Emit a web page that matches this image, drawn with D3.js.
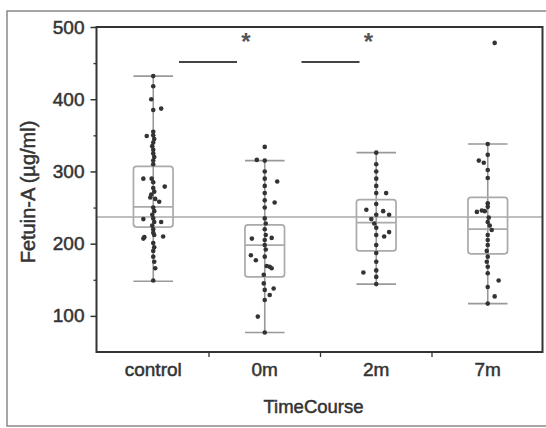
<!DOCTYPE html>
<html>
<head>
<meta charset="utf-8">
<script src="https://cdn.jsdelivr.net/npm/d3@7"></script>
<style>
  html, body { margin: 0; padding: 0; background: #fff; }
  svg { display: block; }
  text { font-family: "Liberation Sans", Arial, sans-serif; }
</style>
</head>
<body>
<svg id="chart" width="546" height="428"></svg>
<script>
// ---------- data ----------
const categories = ["control", "0m", "2m", "7m"];
const yTicks = [100, 200, 300, 400, 500];
const yMinorTicks = [150, 250, 350, 450];
const xTitle = "TimeCourse";
const yTitle = "Fetuin-A (µg/ml)";
const grandMean = 237;

// box statistics: [lower whisker, q1, median, q3, upper whisker]
const boxControl = [148, 223, 251, 307, 432];
const box0m      = [77, 154, 198, 226, 315];
const box2m      = [144, 190, 229, 261, 326];
const box7m      = [117, 186, 220, 264, 338];

// individual observations (values) and their horizontal jitter (in half-box units)
const ptsControl = [432,418,400,385,387,349,355,350,345,340,335,330,325,320,315,310,290,290,285,277,279,272,268,264,262,258,250,245,240,235,230,225,220,234,230,215,212,209,207,210,201,195,190,182,175,166,149];
const jitControl = [0,0,-0.1,0,0.4,-0.33,0,0,0.05,0,-0.05,0,0,0.05,0,0,-0.5,-0.08,0,0,0.58,0.05,-0.1,-0.15,0.1,0.3,0,0.05,-0.05,0,0.05,-0.05,0,-0.5,0.4,0,0.05,-0.45,-0.5,0.5,0,0.05,0,0,0.05,0.1,0];
const pts0m = [334,316,315,300,290,280,270,260,250,286,257,235,228,220,212,205,198,192,207,208,184,177,182,169,168,166,157,145,136,138,129,122,99,77];
const jit0m = [0,-0.4,0,0,0,0,0,0,0,0.63,0.5,0,0.05,0,0.05,0,0,0.05,-0.65,0.35,-0.7,-0.45,0,0.1,0.25,0.35,-0.05,-0.05,0,0.45,0.25,0,-0.35,0];
const pts2m = [326,310,300,290,280,270,270,255,247,245,240,240,234,228,222,212,210,216,198,187,175,160,163,154,144];
const jit2m = [0,0,0,0,0,0,0.5,0,-0.5,0.35,0,0.65,-0.25,-0.1,0,0,0.4,0.65,0,0,0,-0.65,0,0,0];
const pts7m = [478,338,315,312,323,302,291,256,251,244,246,245,236,230,225,219,212,205,198,190,182,175,168,159,140,149,127,117];
const jit7m = [0.35,0,-0.45,-0.2,0,0,0,0,0,-0.55,-0.3,-0.15,0.05,0,0.1,0.2,0,0,0,-0.05,0,-0.05,0,0,0,0.55,0.35,0];

// significance annotations
const sigLabels = ["*", "*"];

const boxes = [boxControl, box0m, box2m, box7m];
const points = [ptsControl, pts0m, pts2m, pts7m];
const jitters = [jitControl, jit0m, jit2m, jit7m];

// ---------- layout ----------
const svg = d3.select("#chart");
const plot = { left: 96.5, right: 542.5, top: 27, bottom: 352 };

const x = d3.scaleBand().domain(categories).range([97.5, 543.5]).paddingInner(0).paddingOuter(0);
const y = d3.scaleLinear().domain([50, 500]).range([plot.bottom, plot.top]);
const boxW = x.bandwidth() * 0.355;

// outer frame
svg.append("rect")
  .attr("x", 7).attr("y", 11).attr("width", 560).attr("height", 415)
  .attr("fill", "none").attr("stroke", "#777").attr("stroke-width", 1.3);

// grand mean line
svg.append("line")
  .attr("x1", plot.left).attr("x2", plot.right)
  .attr("y1", y(grandMean)).attr("y2", y(grandMean))
  .attr("stroke", "#aaa").attr("stroke-width", 1.5);

// boxes
const g = svg.append("g");
boxes.forEach((b, i) => {
  const cx = x(categories[i]) + x.bandwidth() / 2;
  const gg = g.append("g");
  gg.append("line").attr("x1", cx).attr("x2", cx)
    .attr("y1", y(b[0])).attr("y2", y(b[4]))
    .attr("stroke", "#999").attr("stroke-width", 1.6);
  [b[0], b[4]].forEach(v => {
    gg.append("line").attr("x1", cx - boxW / 2).attr("x2", cx + boxW / 2)
      .attr("y1", y(v)).attr("y2", y(v))
      .attr("stroke", "#999").attr("stroke-width", 1.6);
  });
  gg.append("rect")
    .attr("x", cx - boxW / 2).attr("width", boxW)
    .attr("y", y(b[3])).attr("height", y(b[1]) - y(b[3]))
    .attr("rx", 3).attr("ry", 3)
    .attr("fill", "none").attr("stroke", "#aaa").attr("stroke-width", 1.7);
  gg.append("line").attr("x1", cx - boxW / 2).attr("x2", cx + boxW / 2)
    .attr("y1", y(b[2])).attr("y2", y(b[2]))
    .attr("stroke", "#aaa").attr("stroke-width", 1.7);
});

// points
points.forEach((arr, i) => {
  const cx = x(categories[i]) + x.bandwidth() / 2;
  g.selectAll(null).data(arr.map((v, k) => ({ v, j: jitters[i][k] })))
    .enter().append("circle")
    .attr("cx", d => cx + d.j * boxW / 2)
    .attr("cy", d => y(d.v))
    .attr("r", 2.3)
    .attr("fill", "#333");
});

// plot frame
svg.append("rect")
  .attr("x", plot.left).attr("y", plot.top)
  .attr("width", plot.right - plot.left).attr("height", plot.bottom - plot.top)
  .attr("fill", "none").attr("stroke", "#333").attr("stroke-width", 2);

// y axis
const yAxis = svg.append("g").attr("transform", `translate(${plot.left},0)`)
  .call(d3.axisLeft(y).tickValues(yTicks).tickSize(6).tickPadding(6).tickFormat(d3.format("d")));
yAxis.select(".domain").remove();
yAxis.selectAll(".tick line").attr("stroke", "#333").attr("stroke-width", 1.5);
yAxis.selectAll(".tick text")
  .attr("font-family", "Liberation Sans, Arial, sans-serif")
  .attr("font-size", 19).attr("fill", "#333")
  .attr("stroke", "#333").attr("stroke-width", 0.5);
const yMinor = svg.append("g").attr("transform", `translate(${plot.left},0)`)
  .call(d3.axisLeft(y).tickValues(yMinorTicks).tickSize(3).tickFormat(""));
yMinor.select(".domain").remove();
yMinor.selectAll(".tick line").attr("stroke", "#333").attr("stroke-width", 1.3);

// x axis
const xAxis = svg.append("g").attr("transform", `translate(0,${plot.bottom})`)
  .call(d3.axisBottom(x).tickSize(0).tickPadding(11));
xAxis.select(".domain").remove();
xAxis.selectAll(".tick text")
  .attr("font-family", "Liberation Sans, Arial, sans-serif")
  .attr("font-size", 19).attr("fill", "#333")
  .attr("stroke", "#333").attr("stroke-width", 0.5);
categories.slice(1).forEach(c => {
  svg.append("line").attr("x1", x(c)).attr("x2", x(c))
    .attr("y1", plot.bottom).attr("y2", plot.bottom + 5)
    .attr("stroke", "#333").attr("stroke-width", 1.3);
});

// titles
svg.append("text")
  .attr("x", (plot.left + plot.right) / 2 - 6).attr("y", 413)
  .attr("text-anchor", "middle").attr("font-size", 18.5).attr("fill", "#333")
  .attr("stroke", "#333").attr("stroke-width", 0.5)
  .text(xTitle);
svg.append("text")
  .attr("transform", `translate(35,${192}) rotate(-90)`)
  .attr("text-anchor", "middle").attr("font-size", 20).attr("fill", "#333")
  .attr("stroke", "#333").attr("stroke-width", 0.5)
  .text(yTitle);

// significance annotations
[1, 2].forEach((bi, k) => {
  const bx = x(categories[bi]);
  const shift = k === 0 ? -1 : 10;
  svg.append("line")
    .attr("x1", bx + shift - 29).attr("x2", bx + shift + 29)
    .attr("y1", 62).attr("y2", 62)
    .attr("stroke", "#444").attr("stroke-width", 2);
  svg.append("text")
    .attr("x", bx + shift + 38).attr("y", 50)
    .attr("text-anchor", "middle").attr("font-size", 24).attr("font-weight", "bold")
    .attr("fill", "#555")
    .text(sigLabels[k]);
});
</script>
</body>
</html>
